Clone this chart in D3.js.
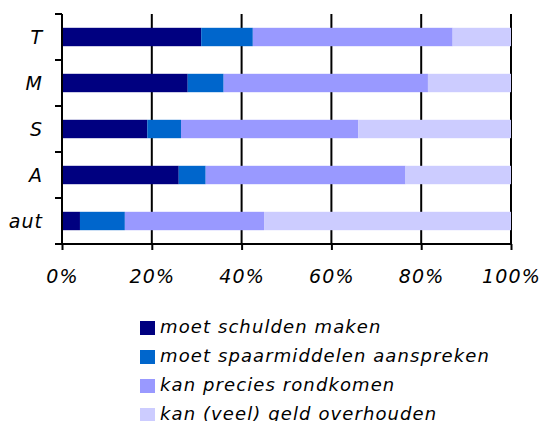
<!DOCTYPE html>
<html>
<head>
<meta charset="utf-8">
<script src="https://cdn.jsdelivr.net/npm/d3@7"></script>
<style>
  body { margin: 0; background: #fff; overflow: hidden; }
  text { font-family: "DejaVu Sans", Verdana, sans-serif; font-style: italic; fill: #000; }
</style>
</head>
<body>
<div id="plot-container"></div>
<script>
// data (percentages)
var categories = ["T", "M", "S", "A", "aut"];
var seriesNames = ["moet schulden maken", "moet spaarmiddelen aanspreken", "kan precies rondkomen", "kan (veel) geld overhouden"];
var schulden = [31, 28, 19, 26, 4];
var spaar = [11.5, 8, 7.5, 6, 10];
var rond = [44.5, 45.5, 39.5, 44.5, 31];
var over = [13, 18.5, 34, 23.5, 55];
var xTicks = [0, 20, 40, 60, 80, 100];

var colors = ["#000080", "#0066cc", "#9999ff", "#ccccff"];

var width = 540, height = 421;
var plotLeft = 62, plotRight = 511, plotTop = 14, plotBottom = 244;

var rows = categories.map(function(c, i) {
  return { cat: c, schulden: schulden[i], spaar: spaar[i], rond: rond[i], over: over[i] };
});
var keys = ["schulden", "spaar", "rond", "over"];
var stacked = d3.stack().keys(keys)(rows);

var xScale = d3.scaleLinear().domain([0, 100]).range([plotLeft, plotRight]);
var yScale = d3.scaleBand().domain(categories).range([plotTop, plotBottom]).paddingInner(0.6).paddingOuter(0.3);
var yBand = d3.scaleBand().domain(categories).range([plotTop, plotBottom]);

var svg = d3.select("#plot-container")
            .append("svg")
            .attr("width", width)
            .attr("height", height)
            .style("display", "block");

// vertical gridlines
svg.append("g")
   .selectAll("line")
   .data(xTicks.slice(1))
   .enter()
   .append("line")
   .attr("x1", function(d){ return xScale(d); })
   .attr("x2", function(d){ return xScale(d); })
   .attr("y1", plotTop)
   .attr("y2", plotBottom)
   .attr("stroke", "#000")
   .attr("stroke-width", 2);

// bars
svg.append("g")
   .selectAll("g")
   .data(stacked)
   .enter()
   .append("g")
   .attr("fill", function(d, i){ return colors[i]; })
   .selectAll("rect")
   .data(function(d){ return d; })
   .enter()
   .append("rect")
   .attr("x", function(d){ return xScale(d[0]); })
   .attr("width", function(d){ return xScale(d[1]) - xScale(d[0]); })
   .attr("y", function(d){ return yScale(d.data.cat); })
   .attr("height", yScale.bandwidth());

// x axis
var xAxis = svg.append("g")
   .attr("transform", "translate(0," + plotBottom + ")")
   .call(d3.axisBottom(xScale).tickValues(xTicks).tickSize(6).tickPadding(20)
          .tickFormat(function(d){ return d + "%"; }));
xAxis.select(".domain").remove();
xAxis.append("line").attr("x1", 55).attr("x2", plotRight).attr("stroke", "#000").attr("stroke-width", 2);
xAxis.selectAll(".tick line").attr("stroke-width", 2);
xAxis.selectAll("text").style("font-size", "19px").style("letter-spacing", "1.2px").attr("fill", "#000");

// y axis with ticks between categories
var yAxis = svg.append("g");
yAxis.append("line")
     .attr("x1", plotLeft).attr("x2", plotLeft).attr("y1", plotTop).attr("y2", plotBottom)
     .attr("stroke", "#000").attr("stroke-width", 2);
yAxis.selectAll(".ytick")
     .data(categories)
     .enter()
     .append("line")
     .attr("x1", 55).attr("x2", plotLeft)
     .attr("y1", function(d){ return yBand(d); })
     .attr("y2", function(d){ return yBand(d); })
     .attr("stroke", "#000").attr("stroke-width", 2);
yAxis.selectAll("text")
     .data(categories)
     .enter()
     .append("text")
     .attr("x", 43)
     .attr("y", function(d){ return yBand(d) + yBand.bandwidth() / 2 + 1; })
     .attr("text-anchor", "end")
     .attr("dominant-baseline", "middle")
     .style("font-size", "19px")
     .style("letter-spacing", "1px")
     .text(function(d){ return d; });

// legend
var legend = svg.append("g")
   .selectAll("g")
   .data(seriesNames)
   .enter()
   .append("g")
   .attr("transform", function(d, i){ return "translate(140," + (321 + i * 29) + ")"; });
legend.append("rect")
      .attr("width", 15).attr("height", 14)
      .attr("fill", function(d, i){ return colors[i]; });
legend.append("text")
      .attr("x", 20).attr("y", 7)
      .attr("dominant-baseline", "middle")
      .style("font-size", "18px")
      .style("letter-spacing", "1.1px")
      .text(function(d){ return d; });
</script>
</body>
</html>
